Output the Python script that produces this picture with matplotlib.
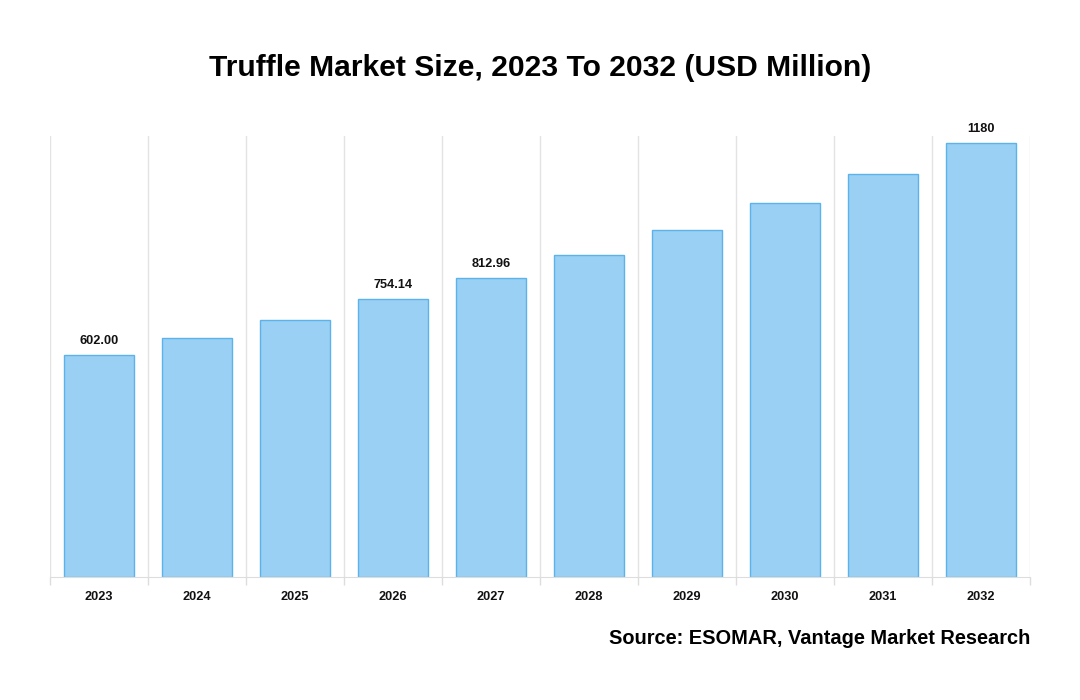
import numpy as np
import matplotlib.pyplot as plt

plt.rcParams['font.family'] = ['Liberation Sans', 'DejaVu Sans']

years = ["2023", "2024", "2025", "2026", "2027", "2028", "2029", "2030", "2031", "2032"]
values = [602.00, 648, 699, 754.14, 812.96, 875, 943, 1016, 1095, 1180]
labels = {0: "602.00", 3: "754.14", 4: "812.96", 9: "1180"}


def plot_market_size():
    fig = plt.figure(figsize=(10.8, 7), dpi=100)
    ax = fig.add_axes([50 / 1080, 123 / 700, 980 / 1080, 441 / 700])

    x = np.arange(len(years))
    ax.bar(x, values, width=0.714, color="#9ad0f4", edgecolor="#5cb3ec", linewidth=1, zorder=2)

    for i, txt in labels.items():
        ax.text(x[i], values[i] + 22, txt, ha="center", va="bottom",
                fontsize=9.2, fontweight="bold", color="#111111")

    ax.set_xlim(-0.5, len(years) - 0.5)
    ax.set_ylim(0, 1198)

    # vertical grid at category boundaries, with small ticks below the baseline
    ax.set_xticks(np.arange(-0.5, len(years), 1.0), minor=False)
    ax.set_xticklabels([])
    ax.tick_params(axis="x", which="major", length=6, color="#dddddd", width=1)
    ax.set_xticks(x, minor=True)
    ax.set_xticklabels(years, minor=True, fontsize=9.2, fontweight="bold", color="#111111")
    ax.tick_params(axis="x", which="minor", length=0, pad=10)
    ax.grid(True, axis="x", which="major", color="#e3e3e3", linewidth=1, zorder=0)

    ax.set_yticks([])
    for s in ["top", "left", "right"]:
        ax.spines[s].set_visible(False)
    ax.spines["bottom"].set_color("#dddddd")

    fig.text(0.5, 1 - 68 / 700, "Truffle Market Size, 2023 To 2032 (USD Million)",
             ha="center", va="center", fontsize=21.6, fontweight="bold")
    fig.text(1030 / 1080, 1 - 638 / 700, "Source: ESOMAR, Vantage Market Research",
             ha="right", va="center", fontsize=14.4, fontweight="bold")

    fig.savefig("out.png", dpi=100)


if __name__ == '__main__':
    plot_market_size()
